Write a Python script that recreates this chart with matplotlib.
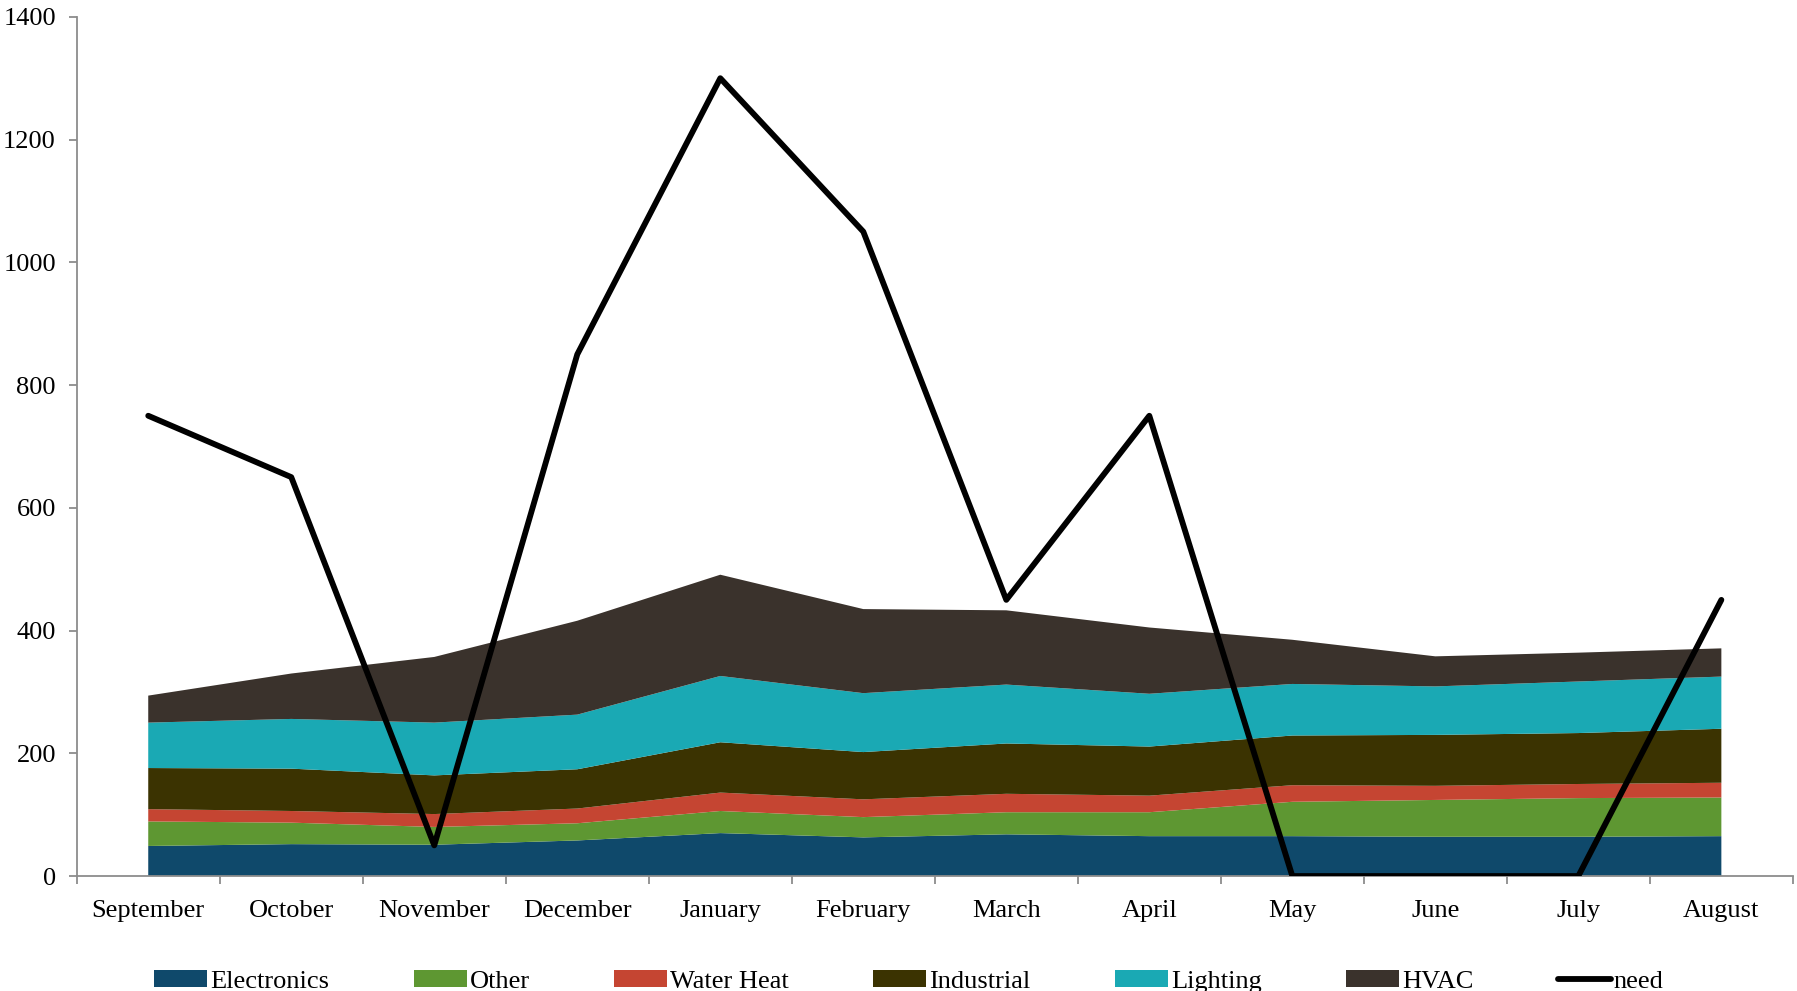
import numpy as np
import matplotlib
matplotlib.use("Agg")
import matplotlib.pyplot as plt
from matplotlib.ticker import FixedLocator

plt.rcParams['font.family'] = ['Liberation Serif', 'DejaVu Serif']

months = ['September', 'October', 'November', 'December', 'January', 'February',
          'March', 'April', 'May', 'June', 'July', 'August']

# stacked components (values per month)
electronics = [49, 52, 51, 58, 70, 63, 68, 65, 65, 64, 64, 65]
other       = [40, 35, 29, 28, 36, 33, 36, 39, 56, 60, 63, 63]
water_heat  = [20, 19, 21, 24, 30, 29, 30, 27, 27, 23, 23, 24]
industrial  = [67, 69, 63, 64, 82, 77, 82, 80, 81, 83, 83, 88]
lighting    = [74, 81, 86, 89, 108, 96, 96, 86, 84, 79, 84, 85]
hvac        = [44, 74, 107, 153, 165, 137, 121, 108, 72, 49, 47, 46]
need        = [750, 650, 50, 850, 1300, 1050, 450, 750, 0, 0, 0, 450]

names = ['Electronics', 'Other', 'Water Heat', 'Industrial', 'Lighting', 'HVAC']
colors = ['#0F496B', '#5E9732', '#C54532', '#3B3301', '#1AA9B4', '#3A322C']

fig = plt.figure(figsize=(17.97, 9.91), dpi=100)
ax = fig.add_axes([0.0427, 0.116, 0.955, 0.867])

x = np.arange(len(months))
ax.stackplot(x, electronics, other, water_heat, industrial, lighting, hvac,
             colors=colors, labels=names, linewidth=0)
ax.plot(x, need, color='black', linewidth=4.2, label='need', zorder=5,
        solid_capstyle='round')

ax.set_xlim(-0.5, len(months) - 0.5)
ax.set_ylim(0, 1400)
ax.set_yticks(range(0, 1401, 200))
ax.set_xticks(x)
ax.set_xticklabels(months)
ax.xaxis.set_minor_locator(FixedLocator(np.arange(-0.5, len(months), 1.0)))

for s in ['top', 'right']:
    ax.spines[s].set_visible(False)
for s in ['left', 'bottom']:
    ax.spines[s].set_color('#8C8C8C')
    ax.spines[s].set_linewidth(1.3)

ax.tick_params(axis='y', length=6, width=1.3, color='#8C8C8C', labelsize=19, pad=9)
ax.tick_params(axis='x', which='major', length=0, labelsize=19, pad=17)
ax.tick_params(axis='x', which='minor', length=6, width=1.3, color='#8C8C8C')

ax.legend(loc='center', bbox_to_anchor=(0.485, -0.123), ncol=7, frameon=False,
          fontsize=19, handlelength=2.0, handleheight=0.6, handletextpad=0.12,
          columnspacing=3.2)

fig.savefig('out.png', dpi=100)
